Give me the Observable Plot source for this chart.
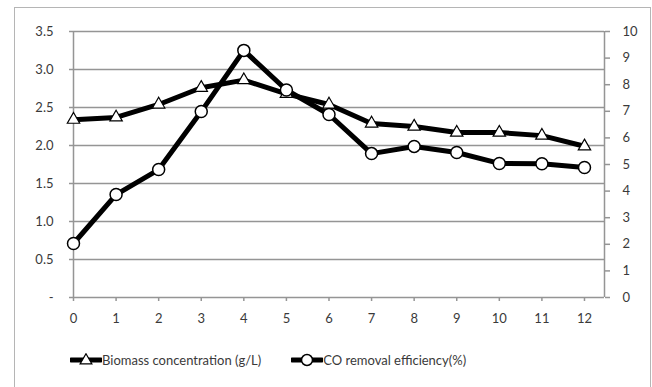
<!DOCTYPE html>
<html>
<head>
<meta charset="utf-8">
<script src="https://cdn.jsdelivr.net/npm/d3@7"></script>
<script src="https://cdn.jsdelivr.net/npm/@observablehq/plot@0.6"></script>
<style>
  html, body { margin: 0; padding: 0; background: #fff; overflow: hidden; }
  #wrap { position: relative; width: 652px; height: 387px; font-family: Lato, "Open Sans", sans-serif; }
  #frame { position: absolute; left: 14px; top: 7px; width: 637px; height: 400px; border: 1px solid #b5b5b5; box-sizing: border-box; }
  #chart { position: absolute; left: 0; top: 0; }
  #legend { position: absolute; left: 70px; top: 352px; display: flex; align-items: center; font-size: 13px; color: #3a3a3a; white-space: nowrap; }
  .item { display: flex; align-items: center; }
</style>
</head>
<body>
<div id="wrap">
  <div id="frame"></div>
  <div id="chart"></div>
  <div id="legend"></div>
</div>
<script>
const hours = [0, 1, 2, 3, 4, 5, 6, 7, 8, 9, 10, 11, 12];
const biomass = [2.34, 2.37, 2.54, 2.76, 2.86, 2.68, 2.54, 2.29, 2.25, 2.17, 2.17, 2.13, 1.99];
const coRemoval = [2.03, 3.87, 4.81, 6.99, 9.29, 7.80, 6.88, 5.41, 5.68, 5.45, 5.04, 5.03, 4.89];
const leftTicks = [0, 0.5, 1.0, 1.5, 2.0, 2.5, 3.0, 3.5];
const rightTicks = [0, 1, 2, 3, 4, 5, 6, 7, 8, 9, 10];
const seriesNames = ["Biomass concentration (g/L)", "CO removal efficiency(%)"];

const leftMax = 3.5, rightMax = 10;
const k = leftMax / rightMax;

const bioData = hours.map((h, i) => ({h, v: biomass[i]}));
const coData = hours.map((h, i) => ({h, v: coRemoval[i] * k}));

const grid = "#959595";
const textColor = "#3a3a3a";

const chart = Plot.plot({
  width: 652,
  height: 340,
  marginLeft: 73,
  marginRight: 48,
  marginTop: 31,
  marginBottom: 43,
  style: {fontFamily: "Lato, 'Open Sans', sans-serif", fontSize: "13px", color: textColor, background: "transparent"},
  x: {type: "linear", domain: [0, 12.47]},
  y: {domain: [0, leftMax]},
  marks: [
    Plot.ruleY(leftTicks.filter(d => d > 0), {stroke: grid, strokeWidth: 1.5}),
    Plot.ruleX([0, 12.47], {stroke: grid, strokeWidth: 1.5}),
    Plot.ruleY([0], {stroke: grid, strokeWidth: 1.5}),
    Plot.axisY(leftTicks, {anchor: "left", tickSize: 4, tickPadding: 16, stroke: grid, strokeWidth: 1.5,
      tickFormat: d => d === 0 ? "-" : d.toFixed(1), fill: textColor, label: null}),
    Plot.axisY(rightTicks.map(d => d * k), {anchor: "right", tickSize: 5, tickPadding: 13, stroke: grid, strokeWidth: 1.5,
      tickFormat: d => String(Math.round(d / k)), fill: textColor, label: null}),
    Plot.axisX(hours, {anchor: "bottom", tickSize: 4, tickPadding: 12, stroke: grid, strokeWidth: 1.5,
      tickFormat: d => String(d), fill: textColor, label: null}),
    Plot.line(bioData, {x: "h", y: "v", stroke: "black", strokeWidth: 5, strokeLinejoin: "round"}),
    Plot.line(coData, {x: "h", y: "v", stroke: "black", strokeWidth: 5, strokeLinejoin: "round"}),
    Plot.dot(bioData, {x: "h", y: "v", symbol: "triangle", r: 4.6, fill: "white", stroke: "black", strokeWidth: 1.2}),
    Plot.dot(coData, {x: "h", y: "v", r: 6, fill: "white", stroke: "black", strokeWidth: 1.5})
  ]
});
document.getElementById("chart").appendChild(chart);

// Legend
const legend = document.getElementById("legend");
function symbolSvg(type) {
  const s = d3.create("svg").attr("width", 32).attr("height", 14);
  s.append("line").attr("x1", 1).attr("x2", 31).attr("y1", 7).attr("y2", 7)
    .attr("stroke", "black").attr("stroke-width", 5).attr("stroke-linecap", "round");
  if (type === "triangle") {
    s.append("path").attr("d", d3.symbol(d3.symbolTriangle, 60)()).attr("transform", "translate(16,7.5)")
      .attr("fill", "white").attr("stroke", "black").attr("stroke-width", 1.2);
  } else {
    s.append("circle").attr("cx", 16).attr("cy", 7).attr("r", 5.5)
      .attr("fill", "white").attr("stroke", "black").attr("stroke-width", 1.5);
  }
  return s.node();
}
seriesNames.forEach((name, i) => {
  const item = document.createElement("div");
  item.className = "item";
  if (i > 0) item.style.marginLeft = "30px";
  item.appendChild(symbolSvg(i === 0 ? "triangle" : "circle"));
  const t = document.createElement("span");
  t.textContent = name;
  item.appendChild(t);
  legend.appendChild(item);
});
</script>
</body>
</html>
